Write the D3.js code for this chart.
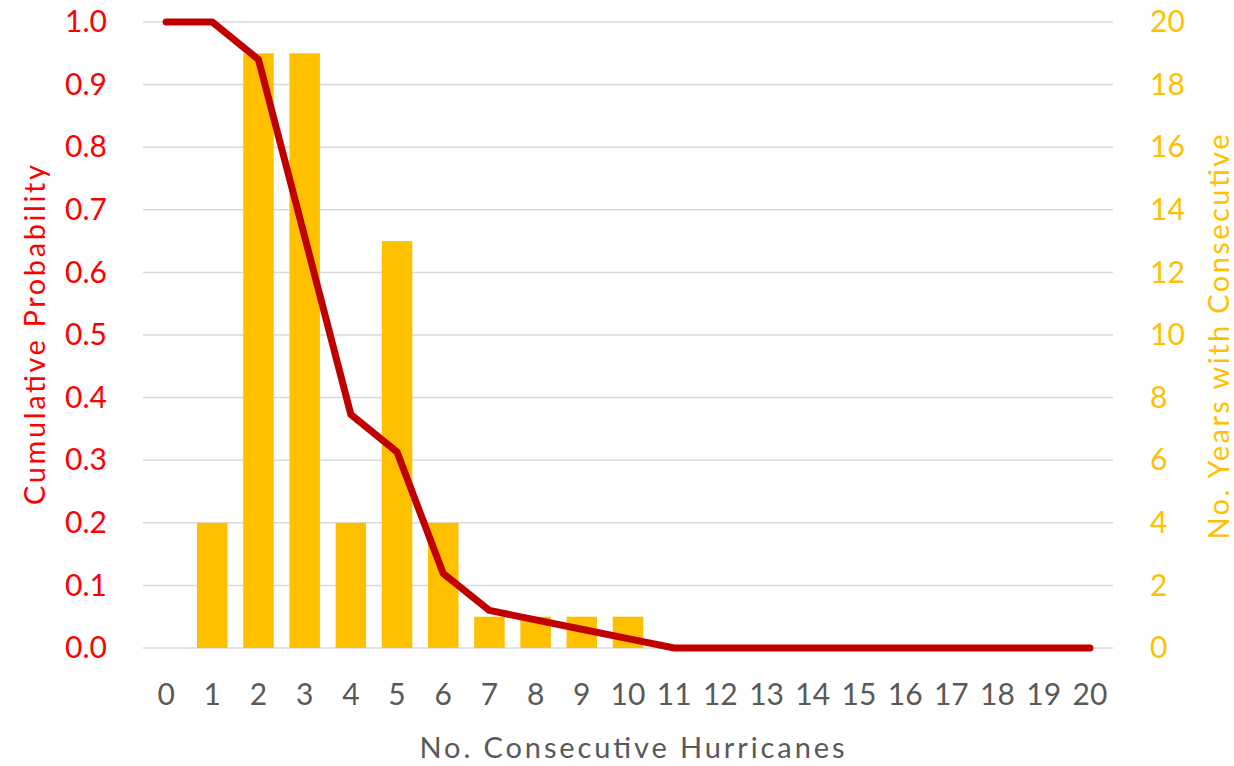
<!DOCTYPE html>
<html>
<head>
<meta charset="utf-8">
<script src="https://cdn.jsdelivr.net/npm/d3@7/dist/d3.min.js"></script>
<style>
  html, body { margin: 0; padding: 0; background: #fff; }
  svg { display: block; font-family: Lato, "Open Sans", sans-serif; }
</style>
</head>
<body>
<svg id="chart" width="1234" height="766"></svg>
<script>
// Number of consecutive hurricanes (x categories)
const categories = d3.range(0, 21).map(String);
// Years observed with each run length (right axis, bars)
const yearCounts = [0, 4, 19, 19, 4, 13, 4, 1, 1, 1, 1, 0, 0, 0, 0, 0, 0, 0, 0, 0, 0];
// Cumulative (exceedance) probability (left axis, line)
const cumProb = [1.0, 1.0, 0.940, 0.657, 0.373, 0.313, 0.119, 0.060, 0.045, 0.030, 0.015,
                 0, 0, 0, 0, 0, 0, 0, 0, 0, 0];
const leftTicks = [0, 0.1, 0.2, 0.3, 0.4, 0.5, 0.6, 0.7, 0.8, 0.9, 1.0];
const rightTicks = [0, 2, 4, 6, 8, 10, 12, 14, 16, 18, 20];

const svg = d3.select("#chart");
const plot = { left: 143, right: 1113, top: 22, bottom: 648 };

const x = d3.scaleBand().domain(categories).range([plot.left, plot.right]).paddingInner(0.34).paddingOuter(0.17);
const xc = d => x(d) + x.bandwidth() / 2;
const yL = d3.scaleLinear().domain([0, 1]).range([plot.bottom, plot.top]);
const yR = d3.scaleLinear().domain([0, 20]).range([plot.bottom, plot.top]);

// Horizontal gridlines
svg.append("g").selectAll("line").data(leftTicks).join("line")
  .attr("x1", plot.left).attr("x2", plot.right)
  .attr("y1", d => yL(d)).attr("y2", d => yL(d))
  .attr("stroke", "#d9d9d9").attr("stroke-width", 1.5);

// Bars
svg.append("g").selectAll("rect").data(categories).join("rect")
  .attr("x", d => x(d))
  .attr("width", x.bandwidth())
  .attr("y", (d, i) => yR(yearCounts[i]))
  .attr("height", (d, i) => yR(0) - yR(yearCounts[i]))
  .attr("fill", "#ffc000");

// Cumulative probability line
const line = d3.line().x((d, i) => xc(categories[i])).y(d => yL(d));
svg.append("path").datum(cumProb)
  .attr("d", line)
  .attr("fill", "none")
  .attr("stroke", "#c00000")
  .attr("stroke-width", 7)
  .attr("stroke-linejoin", "round")
  .attr("stroke-linecap", "round");

// Left axis
const leftAxis = svg.append("g").attr("transform", `translate(${plot.left - 36},0)`)
  .call(d3.axisLeft(yL).tickValues(leftTicks).tickFormat(d3.format(".1f")).tickSize(0).tickPadding(0));
leftAxis.select(".domain").remove();
leftAxis.selectAll("text").attr("fill", "#ff0000").attr("font-size", 30).attr("font-family", "Lato");

// Right axis
const rightAxis = svg.append("g").attr("transform", `translate(${plot.right + 37},0)`)
  .call(d3.axisRight(yR).tickValues(rightTicks).tickSize(0).tickPadding(0));
rightAxis.select(".domain").remove();
rightAxis.selectAll("text").attr("fill", "#ffc000").attr("font-size", 30).attr("font-family", "Lato");

// Bottom axis
const bottomAxis = svg.append("g").attr("transform", `translate(0,${plot.bottom + 47})`)
  .call(d3.axisBottom(x).tickSize(0).tickPadding(0));
bottomAxis.select(".domain").remove();
bottomAxis.selectAll("text").attr("fill", "#595959").attr("font-size", 30).attr("font-family", "Lato")
  .attr("dy", "0.32em");

// Axis titles
svg.append("text")
  .attr("transform", "translate(45,335) rotate(-90)")
  .attr("text-anchor", "middle")
  .attr("fill", "#ff0000").attr("font-size", 29)
  .attr("textLength", 340).attr("lengthAdjust", "spacing")
  .text("Cumulative Probability");

svg.append("text")
  .attr("transform", "translate(1229,337) rotate(-90)")
  .attr("text-anchor", "middle")
  .attr("fill", "#ffc000").attr("font-size", 29)
  .attr("textLength", 405).attr("lengthAdjust", "spacing")
  .text("No. Years with Consecutive");

svg.append("text")
  .attr("x", 632).attr("y", 758)
  .attr("text-anchor", "middle")
  .attr("fill", "#595959").attr("font-size", 29)
  .attr("textLength", 425).attr("lengthAdjust", "spacing")
  .text("No. Consecutive Hurricanes");
</script>
</body>
</html>
